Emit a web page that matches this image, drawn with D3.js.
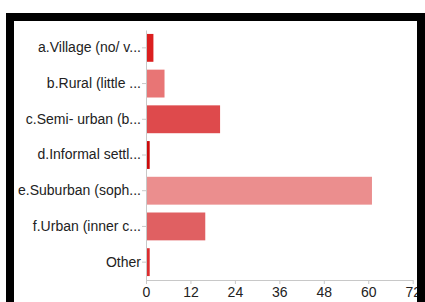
<!DOCTYPE html>
<html>
<head>
<meta charset="utf-8">
<script src="https://cdn.jsdelivr.net/npm/d3@7"></script>
<style>
  html, body { margin: 0; padding: 0; background: #fff; }
  #chart { width: 425px; height: 302px; }
  text { font-family: "Liberation Sans", Arial, Helvetica, sans-serif; }
</style>
</head>
<body>
<div id="chart"></div>
<script>
// Chart data
const categories = [
    "a.Village (no/ v...",
    "b.Rural (little ...",
    "c.Semi- urban (b...",
    "d.Informal settl...",
    "e.Suburban (soph...",
    "f.Urban (inner c...",
    "Other"
];
const counts = [2, 5, 20, 1, 61, 16, 1];
const barColors = ["#db1f1f", "#e87575", "#de4a4c", "#cc0a0a", "#eb8e8e", "#e06062", "#dc2d2f"];
const xTicks = [0, 12, 24, 36, 48, 60, 72];

document.addEventListener('DOMContentLoaded', function() {
    const W = 425, H = 302;
    const plot = {left: 146, right: 412.7, top: 30, bottom: 280};

    const svg = d3.select("#chart")
        .append("svg")
        .attr("width", W)
        .attr("height", H);

    const x = d3.scaleLinear()
        .domain([0, 72])
        .range([plot.left, plot.right]);

    const y = d3.scaleBand()
        .domain(categories)
        .range([plot.top, plot.bottom])
        .paddingInner(0.22)
        .paddingOuter(0.11);

    // Bars
    svg.selectAll(".bar")
        .data(categories)
        .enter()
        .append("rect")
        .attr("class", "bar")
        .attr("x", x(0))
        .attr("y", d => y(d))
        .attr("width", (d, i) => x(counts[i]) - x(0))
        .attr("height", y.bandwidth())
        .attr("fill", (d, i) => barColors[i]);

    // X axis
    const xAxis = svg.append("g")
        .attr("transform", `translate(0,${plot.bottom})`)
        .call(d3.axisBottom(x).tickValues(xTicks).tickSize(4).tickSizeOuter(0));
    xAxis.select(".domain").attr("stroke", "#c8c8c8");
    xAxis.selectAll(".tick line").attr("stroke", "#c8c8c8");
    xAxis.selectAll(".tick text")
        .attr("fill", "#222")
        .attr("font-size", "14px")
        .attr("y", 7);

    // Y axis
    const yAxis = svg.append("g")
        .attr("transform", `translate(${plot.left},0)`)
        .call(d3.axisLeft(y).tickSize(4).tickSizeOuter(0));
    yAxis.select(".domain").attr("stroke", "#c8c8c8");
    yAxis.selectAll(".tick line").attr("stroke", "#c8c8c8");
    yAxis.selectAll(".tick text")
        .attr("fill", "#222")
        .attr("font-size", "14px")
        .attr("x", -5);

    // Black frame around the chart (drawn last so it covers the edge of the "72" label)
    svg.append("rect")
        .attr("x", 10)
        .attr("y", 17)
        .attr("width", 411)
        .attr("height", 300)
        .attr("fill", "none")
        .attr("stroke", "#000")
        .attr("stroke-width", 8);
});
</script>
</body>
</html>
